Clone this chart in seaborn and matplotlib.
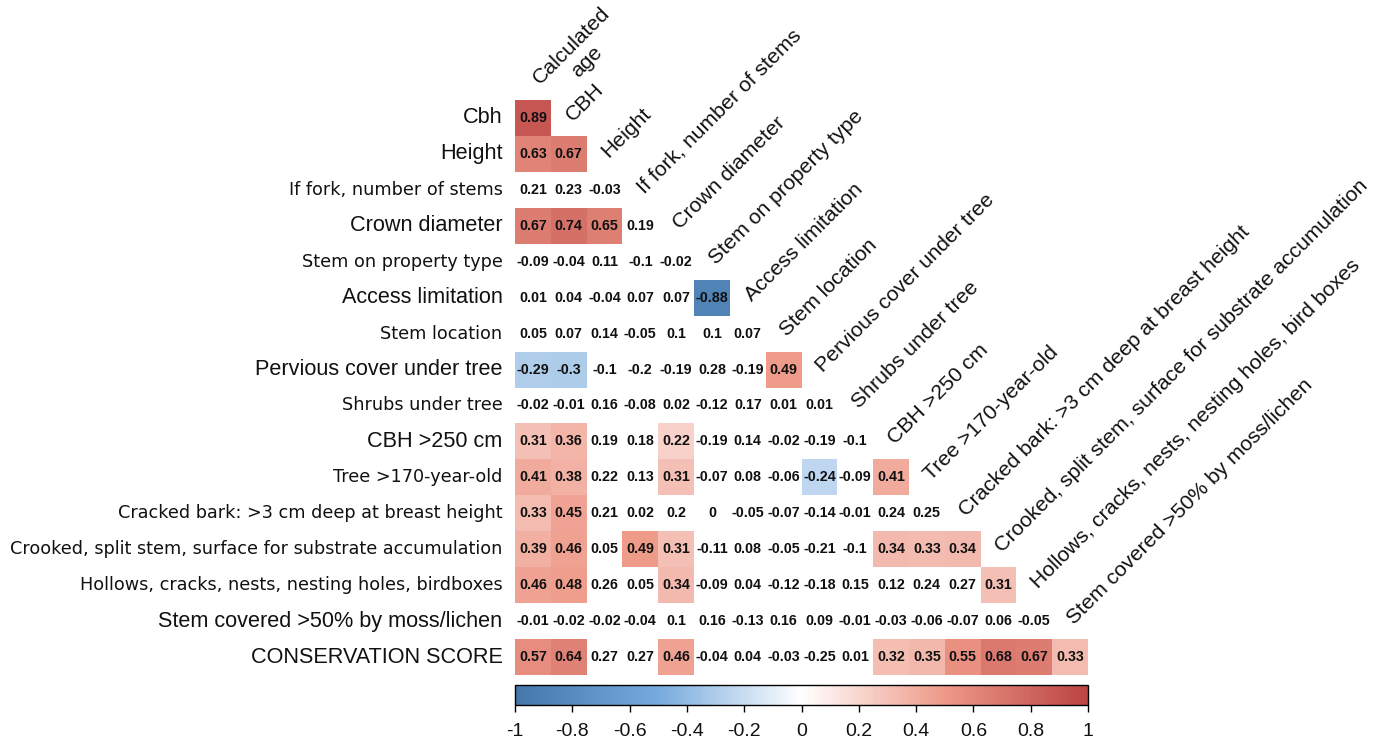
import numpy as np
import pandas as pd
import matplotlib
matplotlib.use("Agg")
import matplotlib.pyplot as plt
import seaborn as sns
from matplotlib.colors import LinearSegmentedColormap, ListedColormap

# Variables along the columns (diagonal labels) and rows
col_labels = [
    "Calculated\nage", "CBH", "Height", "If fork, number of stems",
    "Crown diameter", "Stem on property type", "Access limitation",
    "Stem location", "Pervious cover under tree", "Shrubs under tree",
    "CBH >250 cm", "Tree >170-year-old",
    "Cracked bark: >3 cm deep at breast height",
    "Crooked, split stem, surface for substrate accumulation",
    "Hollows, cracks, nests, nesting holes, bird boxes",
    "Stem covered >50% by moss/lichen",
]
row_labels = [
    "Cbh", "Height", "If fork, number of stems", "Crown diameter",
    "Stem on property type", "Access limitation", "Stem location",
    "Pervious cover under tree", "Shrubs under tree", "CBH >250 cm",
    "Tree >170-year-old", "Cracked bark: >3 cm deep at breast height",
    "Crooked, split stem, surface for substrate accumulation",
    "Hollows, cracks, nests, nesting holes, birdboxes",
    "Stem covered >50% by moss/lichen", "CONSERVATION SCORE",
]
# rows drawn in the larger label font
large_rows = [0, 1, 3, 5, 7, 9, 14, 15]

# Correlation coefficients, lower triangle, one list per row
r_cbh = [0.89]
r_height = [0.63, 0.67]
r_fork = [0.21, 0.23, -0.03]
r_crown = [0.67, 0.74, 0.65, 0.19]
r_property = [-0.09, -0.04, 0.11, -0.1, -0.02]
r_access = [0.01, 0.04, -0.04, 0.07, 0.07, -0.88]
r_location = [0.05, 0.07, 0.14, -0.05, 0.1, 0.1, 0.07]
r_pervious = [-0.29, -0.3, -0.1, -0.2, -0.19, 0.28, -0.19, 0.49]
r_shrubs = [-0.02, -0.01, 0.16, -0.08, 0.02, -0.12, 0.17, 0.01, 0.01]
r_cbh250 = [0.31, 0.36, 0.19, 0.18, 0.22, -0.19, 0.14, -0.02, -0.19, -0.1]
r_tree170 = [0.41, 0.38, 0.22, 0.13, 0.31, -0.07, 0.08, -0.06, -0.24, -0.09, 0.41]
r_cracked = [0.33, 0.45, 0.21, 0.02, 0.2, 0, -0.05, -0.07, -0.14, -0.01, 0.24, 0.25]
r_crooked = [0.39, 0.46, 0.05, 0.49, 0.31, -0.11, 0.08, -0.05, -0.21, -0.1, 0.34, 0.33, 0.34]
r_hollows = [0.46, 0.48, 0.26, 0.05, 0.34, -0.09, 0.04, -0.12, -0.18, 0.15, 0.12, 0.24, 0.27, 0.31]
r_moss = [-0.01, -0.02, -0.02, -0.04, 0.1, 0.16, -0.13, 0.16, 0.09, -0.01, -0.03, -0.06, -0.07, 0.06, -0.05]
r_score = [0.57, 0.64, 0.27, 0.27, 0.46, -0.04, 0.04, -0.03, -0.25, 0.01, 0.32, 0.35, 0.55, 0.68, 0.67, 0.33]

coef_rows = [r_cbh, r_height, r_fork, r_crown, r_property, r_access, r_location,
             r_pervious, r_shrubs, r_cbh250, r_tree170, r_cracked, r_crooked,
             r_hollows, r_moss, r_score]

# (row, column) cells that are statistically significant -> coloured
significant = [
    (0, 0), (1, 0), (1, 1), (3, 0), (3, 1), (3, 2), (5, 5),
    (7, 0), (7, 1), (7, 7), (9, 0), (9, 1), (9, 4),
    (10, 0), (10, 1), (10, 4), (10, 8), (10, 10),
    (11, 0), (11, 1),
    (12, 0), (12, 1), (12, 3), (12, 4), (12, 10), (12, 11), (12, 12),
    (13, 0), (13, 1), (13, 4), (13, 13),
    (15, 0), (15, 1), (15, 4), (15, 10), (15, 11), (15, 12), (15, 13), (15, 14), (15, 15),
]

cbar_ticks = [-1, -0.8, -0.6, -0.4, -0.2, 0, 0.2, 0.4, 0.6, 0.8, 1]

# ---------------------------------------------------------------------------
n = len(row_labels)
coef = np.full((n, n), np.nan)
for i, row in enumerate(coef_rows):
    coef[i, :len(row)] = row
tri_mask = np.isnan(coef)
sig_mask = np.ones((n, n), dtype=bool)
for i, j in significant:
    sig_mask[i, j] = False

annot = np.array([["" if np.isnan(v) else f"{v:g}" for v in row] for row in coef])
df = pd.DataFrame(coef, index=row_labels, columns=range(n))

sns.set_theme(style="white")
plt.rcParams["font.family"] = ["Liberation Sans", "DejaVu Sans"]
plt.rcParams["text.color"] = "black"

cmap = LinearSegmentedColormap.from_list(
    "bwr_corr", ["#4477AA", "#77AADD", "#FFFFFF", "#EE9988", "#BB4444"])

W, H = 1397, 747
fig = plt.figure(figsize=(W / 100, H / 100), dpi=100)
ax = fig.add_axes([515 / W, 1 - 675 / H, 573 / W, 575 / H])
cax = fig.add_axes([515 / W, 1 - 705 / H, 573 / W, 20 / H])

# coloured (significant) cells + colour bar
sns.heatmap(df, mask=tri_mask | sig_mask, cmap=cmap, vmin=-1, vmax=1,
            cbar=True, cbar_ax=cax,
            cbar_kws={"orientation": "horizontal", "ticks": cbar_ticks},
            linewidths=0, ax=ax, xticklabels=False, yticklabels=row_labels)

# coefficient text for every cell of the lower triangle
sns.heatmap(df, mask=tri_mask, cmap=ListedColormap([(1, 1, 1, 0)]),
            cbar=False, annot=annot, fmt="",
            annot_kws={"color": "#111111", "fontsize": 10.3, "fontweight": "bold"},
            linewidths=0, ax=ax, xticklabels=False, yticklabels=row_labels)

ax.tick_params(axis="y", length=0, pad=9, rotation=0)
for k, lab in enumerate(ax.get_yticklabels()):
    if k in large_rows:
        lab.set_fontfamily("Liberation Sans")
        lab.set_fontsize(15.6)
    else:
        lab.set_fontfamily("DejaVu Sans")
        lab.set_fontsize(12.7)
    lab.set_color("#111111")

# column labels written along the diagonal
for j, lab in enumerate(col_labels):
    x, y = j + 0.5, j - 0.5
    if "\n" in lab:
        x, y = x + 0.3, y + 0.2
    ax.text(x, y, lab, rotation=45, rotation_mode="anchor",
            ha="left", va="center", multialignment="center",
            fontsize=15.3, color="#111111", clip_on=False)

for s in ax.spines.values():
    s.set_visible(False)

# colour bar styling
cb = ax.collections[0].colorbar
cb.outline.set_visible(True)
cb.outline.set_edgecolor("black")
cb.outline.set_linewidth(1.0)
cax.set_xticks(cbar_ticks)
cax.set_xticklabels([f"{t:g}" for t in cbar_ticks])
cax.tick_params(axis="x", bottom=True, top=False, direction="out", length=5,
                width=1, color="black", pad=8, labelsize=14, labelcolor="#111111")

fig.savefig("out.png", dpi=100, facecolor="white")
